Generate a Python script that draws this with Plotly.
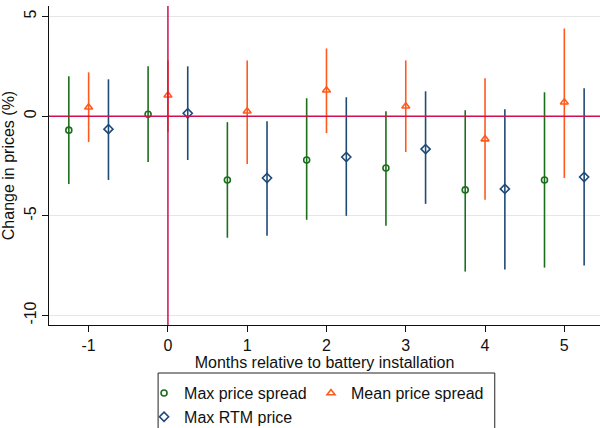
import plotly.graph_objects as go

months = [-1, 0, 1, 2, 3, 4, 5]
tick_labels = ["-1", "0", "1", "2", "3", "4", "5"]

# Max price spread (green circles), offset -0.25
max_spread = [-0.70, 0.10, -3.20, -2.20, -2.60, -3.70, -3.20]
max_spread_hi = [2.00, 2.50, -0.30, 0.90, 0.25, 0.30, 1.20]
max_spread_lo = [-3.40, -2.30, -6.10, -5.20, -5.50, -7.80, -7.60]

# Mean price spread (orange triangles), offset 0
mean_spread = [0.45, 1.05, 0.25, 1.30, 0.50, -1.15, 0.70]
mean_spread_hi = [2.20, 2.80, 2.80, 3.40, 2.80, 1.90, 4.40]
mean_spread_lo = [-1.30, -0.80, -2.40, -0.85, -1.80, -4.20, -3.10]

# Max RTM price (navy diamonds), offset +0.25
max_rtm = [-0.65, 0.15, -3.10, -2.05, -1.65, -3.65, -3.05]
max_rtm_hi = [1.85, 2.50, -0.25, 0.95, 1.25, 0.35, 1.40]
max_rtm_lo = [-3.20, -2.20, -6.00, -5.00, -4.40, -7.70, -7.50]

series = [
    ("Max price spread", -0.25, max_spread, max_spread_hi, max_spread_lo, "#1b6f1b", "circle-open", 6, "legend"),
    ("Mean price spread", 0.0, mean_spread, mean_spread_hi, mean_spread_lo, "#ff5a1c", "triangle-up-open", 7, "legend2"),
    ("Max RTM price", 0.25, max_rtm, max_rtm_hi, max_rtm_lo, "#1e4a78", "diamond-open", 7, "legend"),
]

fig = go.Figure()
FONT = "Liberation Sans, Arial, sans-serif"

for name, off, vals, hi, lo, col, sym, size, lg in series:
    xs = [m + off for m in months]
    fig.add_trace(go.Scatter(
        x=xs, y=vals, mode="markers", name=name, legend=lg,
        marker=dict(symbol=sym, size=size, color=col, line=dict(width=1.6, color=col)),
        error_y=dict(type="data", symmetric=False,
                     array=[h - v for h, v in zip(hi, vals)],
                     arrayminus=[v - l for v, l in zip(vals, lo)],
                     color=col, thickness=1.6, width=0),
    ))

fig.add_hline(y=0, line=dict(color="#d0104c", width=1.5), layer="above")
fig.add_vline(x=0, line=dict(color="#d0104c", width=1.5), layer="above")

# legend frame
fig.add_shape(type="rect", xref="paper", yref="paper",
              x0=0.198, x1=0.809, y0=-0.1505, y1=-0.40,
              line=dict(color="#222222", width=1), fillcolor="rgba(0,0,0,0)")

legend_common = dict(
    orientation="v", xanchor="left", yanchor="top",
    borderwidth=0, bgcolor="rgba(0,0,0,0)",
    font=dict(size=16, family=FONT), itemwidth=30, tracegroupgap=0,
)

fig.update_layout(
    width=600, height=428,
    margin=dict(l=49, r=0, t=6, b=103, autoexpand=False),
    paper_bgcolor="white", plot_bgcolor="white",
    font=dict(family=FONT, size=16, color="#111111"),
    showlegend=True,
    legend=dict(x=0.1725, y=-0.160, **legend_common),
    legend2=dict(x=0.4755, y=-0.160, **legend_common),
    xaxis=dict(
        range=[-1.5, 5.45], tickvals=months, ticktext=tick_labels, automargin=False,
        showgrid=False, zeroline=False, showline=True, linecolor="#111111", linewidth=1.2,
        ticks="outside", ticklen=6, tickcolor="#111111", tickfont=dict(size=16),
        title=dict(text="Months relative to battery installation", font=dict(size=16), standoff=0),
    ),
    yaxis=dict(
        range=[-10.48, 5.53], tickvals=[-10, -5, 0, 5], ticktext=["-10", "-5", "0", "5"],
        tickangle=-90, automargin=False,
        showgrid=True, gridcolor="#e6e6e6", gridwidth=1.2, zeroline=False,
        showline=True, linecolor="#111111", linewidth=1.2,
        ticks="outside", ticklen=6, tickcolor="#111111", tickfont=dict(size=16),
        title=dict(text="Change in prices (%)", font=dict(size=16), standoff=4),
    ),
)

fig.write_html("out.html", config={"displayModeBar": False},
               post_script="document.body.style.margin='0';document.body.style.overflow='hidden';")
